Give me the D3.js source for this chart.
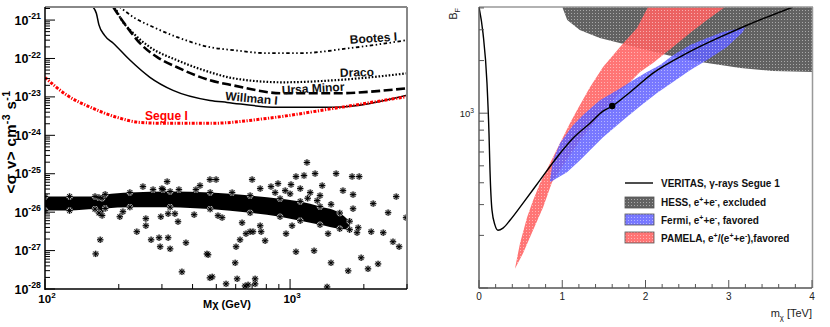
<!DOCTYPE html>
<html lang="en">
<head>
<meta charset="UTF-8">
<title>Segue 1 - dark matter limits</title>
<script src="https://d3js.org/d3.v7.min.js"></script>
<style>
  body { margin: 0; background: #fff; }
  svg { display: block; font-family: "Liberation Sans", Arial, Helvetica, sans-serif; }
</style>
</head>
<body>
<svg id="chart" width="830" height="327"></svg>
<script>
// ---------- left panel data: <sigma v> (cm^3 s^-1) vs M (GeV) ----------
const bootesI   = [[202,2.19e-21],[229,1.2e-21],[276,6.6e-22],[346,3.6e-22],[471,1.97e-22],[585,1.65e-22],[805,1.38e-22],[1100,1.38e-22],[1757,1.86e-22],[3000,3.0e-22]];
const draco     = [[193,2.19e-21],[202,1.2e-21],[229,4.58e-22],[268,1.97e-22],[346,9.0e-23],[471,4.4e-23],[585,3.06e-23],[936,2.4e-23],[1500,2.7e-23],[3000,4.1e-23]];
const ursaMinor = [[190,2.19e-21],[197,1.52e-21],[216,6.6e-22],[244,2.5e-22],[287,1.08e-22],[346,5.9e-23],[471,2.7e-23],[585,2.0e-23],[936,1.24e-23],[1500,1.24e-23],[3000,1.68e-23]];
const willmanI  = [[157,2.19e-21],[162,1.5e-21],[166,7.5e-22],[175,4.0e-22],[190,2.5e-22],[222,9.1e-23],[268,3.24e-23],[333,1.48e-23],[471,8.1e-24],[553,7.2e-24],[885,5.4e-24],[1500,5.4e-24],[3000,1.1e-23]];
const segueI    = [[100,3.2e-23],[123,1.1e-23],[153,5.4e-24],[197,2.93e-24],[244,2.17e-24],[315,2.05e-24],[471,2.05e-24],[805,2.76e-24],[1500,5.0e-24],[3000,1.02e-23]];

const curveLabels = [
  { text: "Bootes I",   m: 1757, sv: 2.4e-22,  rot: -4 },
  { text: "Draco",      m: 1600, sv: 3.28e-23, rot: -2 },
  { text: "Ursa Minor", m: 927,  sv: 1.18e-23, rot: -3 },
  { text: "Willman I",  m: 543,  sv: 8.25e-24, rot: 5 },
  { text: "Segue I",    m: 256,  sv: 2.49e-24, rot: 0, red: true }
];

// dense band of models: mass, lower edge, upper edge
const bandMass = [100, 126, 160, 166, 171, 176, 222, 324, 472, 687, 910, 1100, 1325, 1595, 1750];
const bandLo   = [1.1e-26, 1.1e-26, 1.2e-26, 9.5e-27, 8.2e-27, 1.25e-26, 1.35e-26, 1.35e-26, 1.2e-26, 9.6e-27, 7.6e-27, 6.0e-27, 4.7e-27, 3.7e-27, 3.5e-27];
const bandHi   = [2.55e-26, 2.55e-26, 2.55e-26, 2.4e-26, 2.3e-26, 2.9e-26, 3.25e-26, 3.45e-26, 3.25e-26, 2.7e-26, 2.25e-26, 1.9e-26, 1.4e-26, 9.5e-27, 5.8e-27];

// scattered models
const scatterPoints = [
  [161,8.2e-28],[168,1.91e-27],[202,7.6e-27],[208,1.03e-26],[237,3.1e-27],[258,4.44e-27],[258,6.8e-27],
  [251,4.63e-26],[271,1.91e-27],[276,3.87e-26],[297,7.6e-27],[292,2.16e-27],[295,1.26e-27],[303,3.87e-26],
  [315,6.25e-26],[318,2.16e-27],[324,1.11e-27],[318,9.1e-27],[339,9.1e-27],[349,5.65e-27],[352,3.87e-26],
  [376,1.6e-27],[362,2.8e-28],[406,8.6e-27],[413,3.87e-26],[429,4.92e-26],[463,7.8e-28],[471,1.95e-28],
  [471,7.06e-26],[1172,1.96e-25],[499,7.06e-26],[700,7.06e-26],[755,4.11e-26],[893,5.55e-26],[836,4.63e-26],
  [580,3.23e-26],[1009,5.23e-26],[1057,8.45e-26],[1140,8.97e-26],[1265,1.01e-25],[1541,1.01e-25],
  [1791,8.45e-26],[1914,8.45e-26],[1352,4.92e-26],[1644,3.64e-26],[1807,2.86e-26],[2183,1.67e-26],
  [2710,2.54e-26],[2512,9.7e-27],[2974,7.2e-27],[1807,1.23e-26],[1897,3.94e-27],[1876,2.92e-27],
  [2143,3.1e-27],[2399,2.92e-27],[2630,1.7e-27],[2786,1.26e-27],[1429,2.75e-27],[1019,4.44e-27],
  [963,2.75e-27],[755,4.44e-27],[762,3.1e-27],[661,2.75e-27],[706,3.1e-27],[791,1.8e-27],[625,1.91e-27],
  [602,1.26e-27],[458,8.2e-28],[597,4.8e-28],[1057,9.3e-28],[1253,9.9e-28],[1469,4.8e-28],[1950,6.5e-28],
  [2286,4.5e-28],[2080,3.35e-28],[1726,2.97e-28],[481,2.07e-28],[548,1.36e-28],[608,1.84e-28],
  [655,1.2e-28],[674,1.28e-28],[720,1.84e-28],[720,1.36e-28],[1416,1.13e-28],[508,8.1e-27],[528,7.2e-27],
  [637,5.3e-27],[687,3.1e-27],[300,4.11e-26],[955,3.64e-26],[1100,4.11e-26],[1208,3.23e-26],[1325,2.7e-26],
  [869,3.23e-26],[1180,2.3e-26],[1290,2.0e-26],[1470,1.6e-26],[1000,3.0e-26]
];

const leftXTicks = [{ v: 100, exp: "2" }, { v: 1000, exp: "3" }];
const leftYDecades = [-28, -27, -26, -25, -24, -23, -22, -21];

// ---------- right panel data: boost factor vs m_chi (TeV) ----------
const veritas = [[0,4050],[0.048,2871],[0.096,1485],[0.12,769],[0.132,472],[0.156,279],[0.192,229],[0.228,214],
  [0.288,220],[0.372,244],[0.529,306],[0.733,414],[0.937,560],[1.129,719],[1.333,877],[1.49,1027],[1.598,1096],
  [1.814,1318],[2.09,1694],[2.498,2205],[2.895,2722],[3.219,3185],[3.772,4050]];
const hess = [[1.0,4050],[1.06,3412],[1.21,2994],[1.45,2690],[1.69,2518],[1.93,2356],[2.27,2147],[2.53,2012],
  [2.74,1935],[3.14,1812],[3.53,1742],[4.0,1719],[4.0,4050]];
const pamela = [[0.432,129],[0.492,180],[0.577,253],[0.649,317],[0.733,397],[0.853,517],[0.973,673],[1.093,877],
  [1.177,1040],[1.333,1409],[1.49,1835],[1.694,2388],[1.898,3069],[2.03,4050],[2.955,4050],[2.739,3410],
  [2.535,2872],[2.33,2388],[2.09,1935],[1.934,1718],[1.694,1319],[1.453,975],[1.213,700],[1.033,524],
  [0.877,403],[0.769,289],[0.649,214],[0.529,158]];
const fermi = [[0.853,413],[0.889,538],[0.973,673],[1.129,853],[1.249,975],[1.453,1187],[1.658,1355],[1.85,1545],
  [2.018,1718],[2.174,1884],[2.33,2148],[2.535,2453],[2.739,2692],[2.931,2912],[3.195,3111],[3.171,2912],
  [2.979,2388],[2.739,2013],[2.535,1763],[2.33,1506],[2.138,1303],[1.934,1097],[1.73,912],[1.49,728],
  [1.333,614],[1.213,538],[1.057,459],[0.853,403]];
const bestFit = [1.6, 1100];

const rightXTicks = [0, 1, 2, 3, 4];
const legendItems = [
  { key: "line", parts: [["VERITAS, "], ["\u03b3-rays Segue 1"]] },
  { key: "hess", parts: [["HESS, e"], ["+", "sup"], ["+e"], ["-", "sup"], [", excluded"]] },
  { key: "fermi", parts: [["Fermi, e"], ["+", "sup"], ["+e"], ["-", "sup"], [", favored"]] },
  { key: "pamela", parts: [["PAMELA, e"], ["+", "sup"], ["/(e"], ["+", "sup"], ["+e"], ["-", "sup"], ["),favored"]] }
];

// ---------- setup ----------
const svg = d3.select("#chart");
const defs = svg.append("defs");

function dotPattern(id, color, opacity) {
  const p = defs.append("pattern").attr("id", id)
    .attr("patternUnits", "userSpaceOnUse").attr("width", 3).attr("height", 3);
  p.append("rect").attr("width", 3).attr("height", 3).attr("fill", color).attr("fill-opacity", opacity);
  p.append("rect").attr("x", 1).attr("y", 1).attr("width", 1).attr("height", 1)
    .attr("fill", "#fff").attr("fill-opacity", 0.45);
}
dotPattern("pHess", "#626262", 1);
dotPattern("pPamela", "#ff6262", 0.88);
dotPattern("pFermi", "#6262ff", 0.86);

function richText(sel, parts, size) {
  let shift = 0;
  parts.forEach(([s, kind]) => {
    const target = kind === "sup" ? -0.42 * size : kind === "sub" ? 0.3 * size : 0;
    const t = sel.append("tspan").attr("dy", target - shift).text(s);
    if (kind) t.attr("font-size", size * 0.7);
    shift = target;
  });
}

function starPath(x, y, r) {
  const d = r * 0.72;
  return `M${x - r},${y}H${x + r}M${x},${y - r}V${y + r}M${x - d},${y - d}L${x + d},${y + d}M${x - d},${y + d}L${x + d},${y - d}`;
}

// ================= LEFT PANEL =================
const L = { x0: 45, x1: 407, y0: 7, y1: 289 };
const xL = d3.scaleLog().domain([100, 3000]).range([L.x0, L.x1]);
const yL = d3.scaleLog().domain([1e-28, Math.pow(10, -20.66)]).range([L.y1, L.y0]);

defs.append("clipPath").attr("id", "clipL").append("rect")
  .attr("x", L.x0).attr("y", L.y0).attr("width", L.x1 - L.x0).attr("height", L.y1 - L.y0);
const gL = svg.append("g").attr("clip-path", "url(#clipL)");

// band
const band = bandMass.map((m, i) => ({ m, lo: bandLo[i], hi: bandHi[i] }));
gL.append("path").datum(band)
  .attr("d", d3.area().x(d => xL(d.m)).y0(d => yL(d.lo)).y1(d => yL(d.hi)).curve(d3.curveMonotoneX))
  .attr("fill", "#000");

const starPts = band.flatMap(d => [[d.m, d.lo], [d.m, d.hi]]).concat(scatterPoints);
gL.append("g").selectAll("path").data(starPts).enter().append("path")
  .attr("d", d => starPath(xL(d[0]), yL(d[1]), 3.2))
  .attr("stroke", "#b5b5b5").attr("stroke-width", 2.2).attr("fill", "none");
gL.append("g").selectAll("path").data(starPts).enter().append("path")
  .attr("d", d => starPath(xL(d[0]), yL(d[1]), 3.2))
  .attr("stroke", "#000").attr("stroke-width", 1).attr("fill", "none");

// limit curves
const lineL = d3.line().x(d => xL(d[0])).y(d => yL(d[1])).curve(d3.curveMonotoneX);
const curves = [
  { data: bootesI,   color: "#000", w: 1.8, dash: "1.5,2.5,1.5,2.5,3.5,2.5" },
  { data: draco,     color: "#000", w: 2.2, dash: "1.6,1.8" },
  { data: ursaMinor, color: "#000", w: 2.6, dash: "9,3.5" },
  { data: willmanI,  color: "#000", w: 1.5, dash: null },
  { data: segueI,    color: "#ff0000", w: 3, dash: "3,1.5,1.2,1.5" }
];
curves.forEach(c => {
  gL.append("path").datum(c.data).attr("d", lineL)
    .attr("fill", "none").attr("stroke", c.color).attr("stroke-width", c.w)
    .attr("stroke-dasharray", c.dash);
});

curveLabels.forEach(l => {
  const x = xL(l.m), y = yL(l.sv);
  svg.append("text").attr("x", x).attr("y", y)
    .attr("transform", `rotate(${l.rot},${x},${y})`)
    .attr("font-size", 12).attr("font-weight", "bold")
    .attr("fill", l.red ? "#ff0000" : "#111").text(l.text);
});

// frame and axes
svg.append("line").attr("x1", L.x0).attr("x2", L.x1).attr("y1", L.y0).attr("y2", L.y0)
  .attr("stroke", "#888").attr("stroke-width", 2);
svg.append("line").attr("x1", L.x1).attr("x2", L.x1).attr("y1", L.y0).attr("y2", L.y1)
  .attr("stroke", "#888").attr("stroke-width", 2);
svg.append("line").attr("x1", L.x0).attr("x2", L.x0).attr("y1", L.y0).attr("y2", L.y1 + 1)
  .attr("stroke", "#000").attr("stroke-width", 1.5);
svg.append("line").attr("x1", L.x0).attr("x2", L.x1).attr("y1", L.y1).attr("y2", L.y1)
  .attr("stroke", "#000").attr("stroke-width", 1.5);

const axL = svg.append("g").attr("stroke", "#000").attr("stroke-width", 1);
// y ticks
leftYDecades.forEach(dcd => {
  d3.range(1, 10).forEach(k => {
    const v = k * Math.pow(10, dcd);
    if (v < yL.domain()[0] || v > yL.domain()[1]) return;
    const len = k === 1 ? 10 : 5;
    axL.append("line").attr("x1", L.x0).attr("x2", L.x0 + len).attr("y1", yL(v)).attr("y2", yL(v));
  });
  const t = svg.append("text").attr("x", 41).attr("y", yL(Math.pow(10, dcd)) + 4.5)
    .attr("text-anchor", "end").attr("font-size", 12.5).attr("font-weight", "bold");
  richText(t, [["10"], [String(dcd), "sup"]], 12.5);
});
// x ticks
[1, 2].forEach(dcd => {
  d3.range(1, 10).forEach(k => {
    const v = k * Math.pow(10, dcd + 1);
    if (v < xL.domain()[0] || v > xL.domain()[1]) return;
    const len = k === 1 ? 10 : 5;
    axL.append("line").attr("x1", xL(v)).attr("x2", xL(v)).attr("y1", L.y1).attr("y2", L.y1 - len);
  });
});
leftXTicks.forEach(tk => {
  const t = svg.append("text").attr("x", xL(tk.v) + 2).attr("y", 303)
    .attr("text-anchor", "middle").attr("font-size", 11.5).attr("font-weight", "bold");
  richText(t, [["10"], [tk.exp, "sup"]], 11.5);
});
svg.append("text").attr("x", 203).attr("y", 308).attr("font-size", 11).attr("font-weight", "bold")
  .text("M\u03c7 (GeV)");

const yTitle = svg.append("text").attr("transform", "translate(16,142) rotate(-90)")
  .attr("text-anchor", "middle").attr("font-size", 15).attr("font-weight", "bold")
  .attr("letter-spacing", 0.4);
richText(yTitle, [["<\u03c3 v> cm"], ["-3", "sup"], [" s"], ["-1", "sup"]], 15);

// ================= RIGHT PANEL =================
const R = { x0: 479, x1: 812, y0: 7, y1: 288 };
const xR = d3.scaleLinear().domain([0, 4]).range([R.x0, R.x1]);
const yR = d3.scaleLog().domain([100, 4050]).range([R.y1, R.y0]);

defs.append("clipPath").attr("id", "clipR").append("rect")
  .attr("x", R.x0).attr("y", R.y0).attr("width", R.x1 - R.x0).attr("height", R.y1 - R.y0);
const gR = svg.append("g").attr("clip-path", "url(#clipR)");

const areaR = d3.line().x(d => xR(d[0])).y(d => yR(d[1])).curve(d3.curveLinearClosed);
gR.append("path").datum(hess).attr("d", areaR).attr("fill", "url(#pHess)");
gR.append("path").datum(pamela).attr("d", areaR).attr("fill", "url(#pPamela)");
gR.append("path").datum(fermi).attr("d", areaR).attr("fill", "url(#pFermi)");

gR.append("path").datum(veritas)
  .attr("d", d3.line().x(d => xR(d[0])).y(d => yR(d[1])).curve(d3.curveMonotoneX))
  .attr("fill", "none").attr("stroke", "#000").attr("stroke-width", 1.4);
gR.append("circle").attr("cx", xR(bestFit[0])).attr("cy", yR(bestFit[1])).attr("r", 3.2).attr("fill", "#000");

// frame
svg.append("line").attr("x1", R.x0).attr("x2", R.x1 + 1).attr("y1", R.y0).attr("y2", R.y0)
  .attr("stroke", "#999").attr("stroke-width", 1.5);
svg.append("line").attr("x1", R.x1 + 0.5).attr("x2", R.x1 + 0.5).attr("y1", R.y0).attr("y2", R.y1)
  .attr("stroke", "#999").attr("stroke-width", 1.5);
svg.append("line").attr("x1", R.x0).attr("x2", R.x0).attr("y1", R.y0).attr("y2", R.y1 + 0.5)
  .attr("stroke", "#555").attr("stroke-width", 1.4);
svg.append("line").attr("x1", R.x0).attr("x2", R.x1).attr("y1", R.y1).attr("y2", R.y1)
  .attr("stroke", "#555").attr("stroke-width", 1.4);

const axR = svg.append("g").attr("stroke", "#555").attr("stroke-width", 1);
d3.range(0, 4.01, 0.2).forEach(v => {
  const major = Math.abs(v - Math.round(v)) < 1e-6;
  axR.append("line").attr("x1", xR(v)).attr("x2", xR(v)).attr("y1", R.y1).attr("y2", R.y1 - (major ? 8 : 4));
});
[100, 1000].forEach(dec => {
  d3.range(1, 10).forEach(k => {
    const v = k * dec;
    if (v > yR.domain()[1]) return;
    axR.append("line").attr("x1", R.x0).attr("x2", R.x0 + (k === 1 ? 9 : 5)).attr("y1", yR(v)).attr("y2", yR(v));
  });
});
rightXTicks.forEach(v => {
  svg.append("text").attr("x", xR(v)).attr("y", 300).attr("text-anchor", "middle")
    .attr("font-size", 10).attr("fill", "#222").text(v);
});
const y3 = svg.append("text").attr("x", 474).attr("y", yR(1000) + 3.5).attr("text-anchor", "end")
  .attr("font-size", 9.5).attr("fill", "#222");
richText(y3, [["10"], ["3", "sup"]], 9.5);

const bf = svg.append("text").attr("transform", "translate(457,8) rotate(-90)")
  .attr("text-anchor", "end").attr("font-size", 10.5).attr("fill", "#222");
richText(bf, [["B"], ["F", "sub"]], 10.5);

const mx = svg.append("text").attr("x", 812).attr("y", 317).attr("text-anchor", "end")
  .attr("font-size", 11).attr("fill", "#222");
richText(mx, [["m"], ["\u03c7", "sub"], [" [TeV]"]], 11);

// legend
const legBaselines = [187, 206, 224, 242];
const legBoxY = [197, 214, 232];
const fills = { hess: "url(#pHess)", fermi: "url(#pFermi)", pamela: "url(#pPamela)" };
legendItems.forEach((it, i) => {
  if (it.key === "line") {
    svg.append("line").attr("x1", 625).attr("x2", 653).attr("y1", 183).attr("y2", 183)
      .attr("stroke", "#000").attr("stroke-width", 1.4);
  } else {
    svg.append("rect").attr("x", 625).attr("y", legBoxY[i - 1]).attr("width", 29).attr("height", 11)
      .attr("fill", fills[it.key]).attr("stroke", "#555").attr("stroke-width", 0.8);
  }
  const t = svg.append("text").attr("x", 661).attr("y", legBaselines[i])
    .attr("font-size", 10).attr("font-weight", "bold").attr("fill", "#111");
  richText(t, it.parts, 10);
});
</script>
</body>
</html>
